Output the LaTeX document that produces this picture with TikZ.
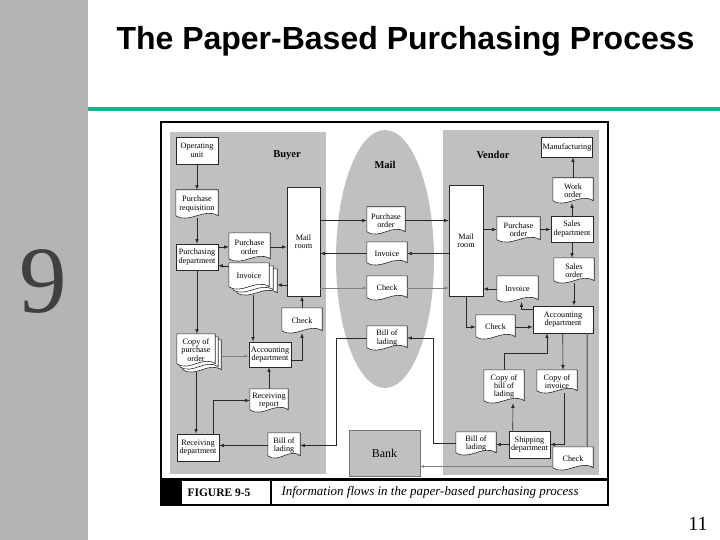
\documentclass[tikz,border=0pt]{standalone}
\usepackage{fontspec}
\setmainfont{Liberation Serif}
\newfontfamily\titlefont{Liberation Sans}
\usetikzlibrary{calc}
\definecolor{slidegray}{RGB}{180,180,180}
\definecolor{regiongray}{RGB}{192,192,192}
\definecolor{rulegreen}{RGB}{26,178,140}
\definecolor{linec}{RGB}{40,40,40}
\pgfdeclarelayer{back}
\pgfdeclarelayer{paper}
\pgfsetlayers{back,paper,main}
\tikzset{
Box/.style={draw=linec,fill=white,line width=0.6pt,align=center,inner sep=1pt,font=\fontsize{8.2}{8.4}\selectfont},
Doc/.style={align=center,inner sep=1pt,font=\fontsize{8.2}{8.4}\selectfont},
Size/.style 2 args={minimum width=#1pt,minimum height=#2pt},
Region/.style={font=\fontsize{10.5}{12}\selectfont\bfseries},
Flow/.style={draw=linec,line width=0.6pt,-latex},
Faint/.style={draw=black!50,line width=0.4pt,-latex},
Sheet/.style={draw=linec,fill=white,line width=0.6pt}
}
\begin{document}
\begin{tikzpicture}[x=1pt,y=-1pt]
	\useasboundingbox (0,0) rectangle (720,540);
	
	% slide
	\fill[slidegray] (0,0) rectangle (88,540);
	\fill[rulegreen] (88,107.5) rectangle (720,111.5);
	\node[anchor=base,font=\titlefont\bfseries\fontsize{32}{35}\selectfont] (title) at (405.5,50) {The Paper-Based Purchasing Process};
	\node[anchor=base,text=black!75,font=\fontsize{95}{95}\selectfont] (chapter) at (43.5,312) {9};
	\node[anchor=base,font=\fontsize{20}{22}\selectfont] (page) at (698,530) {11};
	
	\begin{pgfonlayer}{back}% Regions
		\fill[regiongray] (170,132) rectangle (326,474);
		\fill[regiongray] (443,130) rectangle (599,475);
		\fill[regiongray] (385,259) ellipse [x radius=49, y radius=129];
	\end{pgfonlayer}
	\node[Region] (buyer) at (287,155) {Buyer};
	\node[Region] (mail) at (385,165) {Mail};
	\node[Region] (vendor) at (493,155) {Vendor};
	\node[draw=black!55,fill=regiongray,Size={71}{46},font=\fontsize{12}{14}\selectfont] (bank) at (384.5,453) {Bank};
	
	% buyer
	\node[Box,Size={42}{27}] (opunit) at (197,150.5) {Operating\\unit};
	\node[Doc,Size={42}{28}] (preq) at (197,204) {Purchase\\requisition};
	\node[Box,Size={42}{26}] (purdept) at (197,257) {Purchasing\\department};
	\node[Doc,Size={41}{28}] (bpo) at (249.5,247) {Purchase\\order};
	\node[Box,Size={33}{109}] (bmail) at (303.5,241.5) {Mail\\room};
	\node[Doc,Size={40}{26}] (binv) at (249,276) {Invoice};
	\node[Doc,Size={40}{25}] (bcheck) at (302,320.5) {Check};
	\node[Doc,Size={38}{32}] (copypo) at (196,350) {Copy of\\purchase\\order};
	\node[Box,Size={42}{25}] (bacct) at (270,354.5) {Accounting\\department};
	\node[Doc,Size={38}{23}] (recrep) at (269,400.5) {Receiving\\report};
	\node[Box,Size={42}{27}] (recdept) at (198,447.5) {Receiving\\department};
	\node[Doc,Size={32}{25}] (bbol) at (284,445.5) {Bill of\\lading};
	
	% mail
	\node[Doc,Size={38}{27}] (mpo) at (386,220.5) {Purchase\\order};
	\node[Doc,Size={40}{23}] (minv) at (387,253.5) {Invoice};
	\node[Doc,Size={40}{24}] (mcheck) at (387,288) {Check};
	\node[Doc,Size={40}{24}] (mbol) at (387,338) {Bill of\\lading};
	
	% vendor
	\node[Box,Size={50}{20}] (manuf) at (567,147) {Manufacturing};
	\node[Doc,Size={40}{25}] (worder) at (573,190.5) {Work\\order};
	\node[Box,Size={34}{111}] (vmail) at (466,240.5) {Mail\\room};
	\node[Doc,Size={43}{25}] (vpo) at (518.5,229.5) {Purchase\\order};
	\node[Box,Size={42}{26}] (salesdept) at (572,229) {Sales\\department};
	\node[Doc,Size={40}{25}] (sorder) at (574,270.5) {Sales\\order};
	\node[Doc,Size={41}{26}] (vinv) at (517.5,289) {Invoice};
	\node[Box,Size={60}{27}] (vacct) at (563,319.5) {Accounting\\department};
	\node[Doc,Size={39}{24}] (vcheck) at (495.5,327) {Check};
	\node[Doc,Size={40}{33}] (copybol) at (504,386.5) {Copy of\\bill of\\lading};
	\node[Doc,Size={40}{23}] (copyinv) at (557,381.5) {Copy of\\invoice};
	\node[Doc,Size={40}{23}] (vbol) at (476,443.5) {Bill of\\lading};
	\node[Box,Size={41}{27}] (shipdept) at (529.5,444.5) {Shipping\\department};
	\node[Doc,Size={40}{23}] (vcheck2) at (573,458.5) {Check};
	
	\begin{pgfonlayer}{paper}% document sheets, copies first
		\foreach \d/\dx/\dy in {binv/8/6,binv/4/3,copypo/6/6,copypo/3/3,preq/0/0,bpo/0/0,binv/0/0,bcheck/0/0,copypo/0/0,recrep/0/0,bbol/0/0,mpo/0/0,minv/0/0,mcheck/0/0,mbol/0/0,worder/0/0,vpo/0/0,sorder/0/0,vinv/0/0,vcheck/0/0,copybol/0/0,copyinv/0/0,vbol/0/0,vcheck2/0/0}{
			\filldraw[Sheet] ($(\d.north west)+(\dx,\dy)$) -- ($(\d.north east)+(\dx,\dy)$)
				-- ($(\d.south east)+(\dx,\dy-2.5)$)
				.. controls ($(\d.south east)!0.33!(\d.south west)+(\dx,\dy-11)$)
				and ($(\d.south east)!0.67!(\d.south west)+(\dx,\dy+6)$)
				.. ($(\d.south west)+(\dx,\dy-2.5)$) -- cycle;
		}
	\end{pgfonlayer}
	
	% buyer flows
	\draw[Flow] (opunit) -- (preq);
	\draw[Flow] (preq) -- (purdept);
	\draw[Flow] (purdept.east |- bpo.west) -- (bpo.west);
	\draw[Flow] (bpo.east) -- (bmail.west |- bpo.east);
	\draw[Flow] ($(binv.north west)+(0,3)$) coordinate (invout) -- (purdept.east |- invout);
	\coordinate (invin) at ($(binv.east)+(8,9)$);
	\draw[Flow] (bmail.west |- invin) -- (invin);
	\draw[Flow] ($(binv.south)+(4,6)$) -- ($(bacct.north)+(-17,0)$);
	\draw[Flow] ($(bacct.east)+(0,6)$) -| (bcheck.south);
	\draw[Flow] (bcheck) -- (bcheck |- bmail.south);
	\draw[Flow] (purdept) -- (purdept |- copypo.north);
	\draw[Flow] ($(copypo.south)+(0,6)$) -- (copypo.south |- recdept.north);
	\draw[Faint] ($(copypo.east)+(6,6)$) coordinate (cpo) -- (bacct.west |- cpo);
	\draw[Flow] (bbol) -- (recdept.east |- bbol);
	\draw[Flow] ($(recdept.north east)+(-6,0)$) |- (recrep);
	\draw[Flow] (recrep) -- (recrep |- bacct.south);
	
	% through the mail
	\draw[Flow] (bmail.east |- mpo) -- (mpo);
	\draw[Flow] (mpo) -- (vmail.west |- mpo);
	\draw[Flow] (vmail.west |- minv) -- (minv);
	\draw[Flow] (minv) -- (bmail.east |- minv);
	\draw[Faint] (bmail.east |- mcheck) -- (mcheck);
	\draw[Faint] (mcheck) -- (vmail.west |- mcheck);
	\draw[Flow] (vbol) -| ($(mbol.east)+(26,0)$) -- (mbol);
	\draw[Flow] (mbol.west) -- ++(-31,0) |- (bbol);
	
	% vendor flows
	\draw[Flow] (vmail.east |- vpo) -- (vpo);
	\draw[Flow] (vpo) -- (salesdept.west |- vpo);
	\draw[Flow] (salesdept) -- (salesdept |- worder.south);
	\draw[Flow] (worder) -- (worder |- manuf.south);
	\draw[Flow] (salesdept) -- (salesdept |- sorder.north);
	\draw[Flow] (sorder) -- (sorder |- vacct.north);
	\draw[Flow] ($(vacct.north west)+(0,4)$) -| ($(vinv.south)+(4,0)$);
	\draw[Flow] (vinv) -- (vmail.east |- vinv);
	\draw[Flow] (vmail) |- (vcheck);
	\draw[Flow] (vcheck) -- (vacct.west |- vcheck);
	\draw[Flow] ($(vacct.south west)+(30,0)$) -- ($(copyinv.north)+(6,0)$);
	\draw[Flow] ($(copyinv.south)+(7,0)$) |- (shipdept);
	\draw[Flow] ($(shipdept.north west)+(4,0)$) -- ($(copybol.south)+(9,0)$);
	\draw[Flow] (copybol.north) -- ++(0,-17) -| ($(vacct.south)+(-16,0)$);
	\draw[Flow] (shipdept) -- (shipdept -| vbol.east);
	\draw[draw=black!60,line width=1.2pt] ($(vacct.south east)+(-6,0)$) -- ($(vcheck2.north east)+(-6,0)$);
	\draw[Faint] ($(vcheck2.west)+(0,8)$) coordinate (pay) -- (bank.east |- pay);
	
	% figure frame and caption
	\draw[line width=2.5pt] (161,122) rectangle (608,505);
	\draw[line width=3pt] (161,479) -- (608,479);
	\fill (161,479) rectangle (182,505);
	\draw[line width=1.2pt] (271,479) -- (271,505);
	\node[font=\bfseries\fontsize{11.5}{13}\selectfont] (fignum) at (219,492.5) {FIGURE 9-5};
	\node[anchor=west,font=\itshape\fontsize{13}{15}\selectfont] (caption) at (278,492.5) {Information flows in the paper-based purchasing process};
\end{tikzpicture}
\end{document}
